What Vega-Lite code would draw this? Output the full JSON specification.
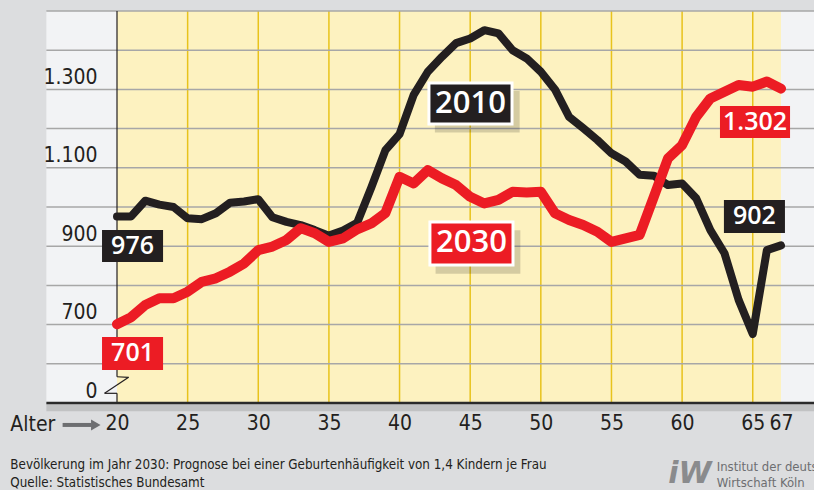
{
  "$schema": "https://vega.github.io/schema/vega-lite/v6.json",
  "width": 664,
  "height": 392,
  "autosize": "none",
  "padding": {"left": 117, "top": 11, "right": 33, "bottom": 87},
  "background": "#dcdddf",
  "config": {"view": {"stroke": null, "fill": "#fdf2c0"}, "font": "DejaVu Sans Condensed, Roboto"},
  "resolve": {"axis": {"x": "independent", "y": "independent"}},
  "layer": [
    {
      "data": {"values": [{}]},
      "mark": {"type": "rect", "fill": "#f2f3f5"},
      "encoding": {
        "x": {"datum": 15.0, "type": "quantitative", "scale": {"domain": [20, 67], "nice": false, "zero": false}, "axis": null},
        "x2": {"datum": 20},
        "y": {"datum": 500, "type": "quantitative", "scale": {"domain": [500, 1500], "nice": false, "zero": false}, "axis": null},
        "y2": {"datum": 1500}
      }
    },
    {
      "data": {"values": [{}]},
      "mark": {"type": "rect", "fill": "#f2f3f5"},
      "encoding": {
        "x": {"datum": 67, "type": "quantitative", "scale": {"domain": [20, 67], "nice": false, "zero": false}, "axis": null},
        "x2": {"datum": 70},
        "y": {"datum": 500, "type": "quantitative", "scale": {"domain": [500, 1500], "nice": false, "zero": false}, "axis": null},
        "y2": {"datum": 1500}
      }
    },
    {
      "data": {"values": [{"a": 25}, {"a": 30}, {"a": 35}, {"a": 40}, {"a": 45}, {"a": 50}, {"a": 55}, {"a": 60}, {"a": 65}]},
      "mark": {"type": "rule", "stroke": "#e8c31c", "strokeWidth": 1.5},
      "encoding": {
        "x": {"field": "a", "type": "quantitative", "scale": {"domain": [20, 67], "nice": false, "zero": false}, "axis": null},
        "y": {"datum": 500, "type": "quantitative", "scale": {"domain": [500, 1500], "nice": false, "zero": false}, "axis": null},
        "y2": {"datum": 1500}
      }
    },
    {
      "data": {"values": [{"g": 600}, {"g": 700}, {"g": 800}, {"g": 900}, {"g": 1000}, {"g": 1100}, {"g": 1200}, {"g": 1300}, {"g": 1400}, {"g": 1500}]},
      "mark": {"type": "rule", "stroke": "#a7a7a7", "strokeWidth": 1.5},
      "encoding": {
        "x": {"datum": 15.0, "type": "quantitative", "scale": {"domain": [20, 67], "nice": false, "zero": false}, "axis": null},
        "x2": {"datum": 70},
        "y": {"field": "g", "type": "quantitative", "scale": {"domain": [500, 1500], "nice": false, "zero": false}, "axis": null}
      }
    },
    {
      "data": {"values": [{}]},
      "mark": {"type": "rule", "stroke": "#231f20", "strokeWidth": 1.2},
      "encoding": {
        "x": {"datum": 20, "type": "quantitative", "scale": {"domain": [20, 67], "nice": false, "zero": false}, "axis": null},
        "y": {"datum": 567, "type": "quantitative", "scale": {"domain": [500, 1500], "nice": false, "zero": false}, "axis": null},
        "y2": {"datum": 1500}
      }
    },
    {
      "data": {"values": [{}]},
      "mark": {"type": "rule", "stroke": "#231f20", "strokeWidth": 1.2},
      "encoding": {
        "x": {"datum": 20, "type": "quantitative", "scale": {"domain": [20, 67], "nice": false, "zero": false}, "axis": null},
        "x2": {"datum": 20.82},
        "y": {"datum": 567, "type": "quantitative", "scale": {"domain": [500, 1500], "nice": false, "zero": false}, "axis": null},
        "y2": {"datum": 565.6}
      }
    },
    {
      "data": {"values": [{}]},
      "mark": {"type": "rule", "stroke": "#231f20", "strokeWidth": 1.2},
      "encoding": {
        "x": {"datum": 20.82, "type": "quantitative", "scale": {"domain": [20, 67], "nice": false, "zero": false}, "axis": null},
        "x2": {"datum": 19.12},
        "y": {"datum": 565.6, "type": "quantitative", "scale": {"domain": [500, 1500], "nice": false, "zero": false}, "axis": null},
        "y2": {"datum": 524.7}
      }
    },
    {
      "data": {"values": [{}]},
      "mark": {"type": "rule", "stroke": "#231f20", "strokeWidth": 1.2},
      "encoding": {
        "x": {"datum": 19.12, "type": "quantitative", "scale": {"domain": [20, 67], "nice": false, "zero": false}, "axis": null},
        "x2": {"datum": 20},
        "y": {"datum": 524.7, "type": "quantitative", "scale": {"domain": [500, 1500], "nice": false, "zero": false}, "axis": null},
        "y2": {"datum": 524.7}
      }
    },
    {
      "data": {"values": [{}]},
      "mark": {"type": "rule", "stroke": "#231f20", "strokeWidth": 1.2},
      "encoding": {
        "x": {"datum": 20, "type": "quantitative", "scale": {"domain": [20, 67], "nice": false, "zero": false}, "axis": null},
        "y": {"datum": 524.7, "type": "quantitative", "scale": {"domain": [500, 1500], "nice": false, "zero": false}, "axis": null},
        "y2": {"datum": 500}
      }
    },
    {
      "data": {"values": [{}]},
      "mark": {"type": "rule", "stroke": "#000000", "strokeOpacity": 0.12, "strokeWidth": 7},
      "encoding": {
        "x": {"datum": 15.0, "type": "quantitative", "scale": {"domain": [20, 67], "nice": false, "zero": false}, "axis": null},
        "x2": {"datum": 70},
        "y": {"datum": 488, "type": "quantitative", "scale": {"domain": [500, 1500], "nice": false, "zero": false}, "axis": null}
      }
    },
    {
      "data": {"values": [{}]},
      "mark": {"type": "rule", "stroke": "#2a2a2a", "strokeWidth": 2.5},
      "encoding": {
        "x": {"datum": 15.0, "type": "quantitative", "scale": {"domain": [20, 67], "nice": false, "zero": false}, "axis": null},
        "x2": {"datum": 70},
        "y": {"datum": 500, "type": "quantitative", "scale": {"domain": [500, 1500], "nice": false, "zero": false}, "axis": null}
      }
    },
    {
      "data": {"name": "pop"},
      "transform": [{"filter": "datum.jahr == '2010'"}],
      "mark": {"type": "line", "stroke": "#231f20", "strokeWidth": 8, "strokeCap": "round", "strokeJoin": "round"},
      "encoding": {
        "x": {"field": "alter", "type": "quantitative", "scale": {"domain": [20, 67], "nice": false, "zero": false},
          "axis": {"values": [20, 25, 30, 35, 40, 45, 50, 55, 60, 65, 67], "title": null, "grid": false, "domain": false, "ticks": false, "zindex": 2, "labelPadding": 9, "labelFontSize": 21, "labelColor": "#231f20", "labelOverlap": false, "labelBound": false, "labelFlush": false}},
        "y": {"field": "anzahl", "type": "quantitative", "scale": {"domain": [500, 1500], "nice": false, "zero": false},
          "axis": {"values": [500, 700, 900, 1100, 1300], "labelExpr": "datum.value == 500 ? '0' : replace(format(datum.value, ','), ',', '.')", "title": null, "grid": false, "domain": false, "ticks": false, "zindex": 2, "labelPadding": 20, "labelFontSize": 21, "labelColor": "#231f20", "labelBaseline": "alphabetic", "labelOffset": -6, "labelOverlap": false, "labelBound": false, "labelFlush": false}}
      }
    },
    {
      "data": {"name": "pop"},
      "transform": [{"filter": "datum.jahr == '2030'"}],
      "mark": {"type": "line", "stroke": "#ec1c24", "strokeWidth": 10, "strokeCap": "round", "strokeJoin": "round"},
      "encoding": {
        "x": {"field": "alter", "type": "quantitative", "scale": {"domain": [20, 67], "nice": false, "zero": false}, "axis": null},
        "y": {"field": "anzahl", "type": "quantitative", "scale": {"domain": [500, 1500], "nice": false, "zero": false}, "axis": null}
      }
    },
    {
      "data": {"values": [{}]},
      "mark": {"type": "rect", "fill": "#231f20"},
      "encoding": {
        "x": {"datum": 18.94, "type": "quantitative", "scale": {"domain": [20, 67], "nice": false, "zero": false}, "axis": null},
        "x2": {"datum": 23.26},
        "y": {"datum": 859.7, "type": "quantitative", "scale": {"domain": [500, 1500], "nice": false, "zero": false}, "axis": null},
        "y2": {"datum": 941.3}
      }
    },
    {
      "data": {"values": [{}]},
      "mark": {"type": "rect", "fill": "#ec1c24"},
      "encoding": {
        "x": {"datum": 18.94, "type": "quantitative", "scale": {"domain": [20, 67], "nice": false, "zero": false}, "axis": null},
        "x2": {"datum": 23.26},
        "y": {"datum": 584.2, "type": "quantitative", "scale": {"domain": [500, 1500], "nice": false, "zero": false}, "axis": null},
        "y2": {"datum": 668.4}
      }
    },
    {
      "data": {"values": [{}]},
      "mark": {"type": "rect", "fill": "#231f20"},
      "encoding": {
        "x": {"datum": 62.96, "type": "quantitative", "scale": {"domain": [20, 67], "nice": false, "zero": false}, "axis": null},
        "x2": {"datum": 67.28},
        "y": {"datum": 933.7, "type": "quantitative", "scale": {"domain": [500, 1500], "nice": false, "zero": false}, "axis": null},
        "y2": {"datum": 1017.9}
      }
    },
    {
      "data": {"values": [{}]},
      "mark": {"type": "rect", "fill": "#ec1c24"},
      "encoding": {
        "x": {"datum": 62.68, "type": "quantitative", "scale": {"domain": [20, 67], "nice": false, "zero": false}, "axis": null},
        "x2": {"datum": 67.64},
        "y": {"datum": 1176, "type": "quantitative", "scale": {"domain": [500, 1500], "nice": false, "zero": false}, "axis": null},
        "y2": {"datum": 1257.7}
      }
    },
    {
      "data": {"values": [{}]},
      "mark": {"type": "rect", "fill": "#000000", "opacity": 0.16},
      "encoding": {
        "x": {"datum": 42.5, "type": "quantitative", "scale": {"domain": [20, 67], "nice": false, "zero": false}, "axis": null},
        "x2": {"datum": 48.5},
        "y": {"datum": 1190, "type": "quantitative", "scale": {"domain": [500, 1500], "nice": false, "zero": false}, "axis": null},
        "y2": {"datum": 1296}
      }
    },
    {
      "data": {"values": [{}]},
      "mark": {"type": "rect", "fill": "#000000", "opacity": 0.16},
      "encoding": {
        "x": {"datum": 42.55, "type": "quantitative", "scale": {"domain": [20, 67], "nice": false, "zero": false}, "axis": null},
        "x2": {"datum": 48.55},
        "y": {"datum": 830, "type": "quantitative", "scale": {"domain": [500, 1500], "nice": false, "zero": false}, "axis": null},
        "y2": {"datum": 941}
      }
    },
    {
      "data": {"values": [{}]},
      "mark": {"type": "rect", "fill": "#231f20", "stroke": "#ffffff", "strokeWidth": 3},
      "encoding": {
        "x": {"datum": 42.08, "type": "quantitative", "scale": {"domain": [20, 67], "nice": false, "zero": false}, "axis": null},
        "x2": {"datum": 47.96},
        "y": {"datum": 1211.7, "type": "quantitative", "scale": {"domain": [500, 1500], "nice": false, "zero": false}, "axis": null},
        "y2": {"datum": 1316.3}
      }
    },
    {
      "data": {"values": [{}]},
      "mark": {"type": "rect", "fill": "#ec1c24", "stroke": "#ffffff", "strokeWidth": 3},
      "encoding": {
        "x": {"datum": 42.15, "type": "quantitative", "scale": {"domain": [20, 67], "nice": false, "zero": false}, "axis": null},
        "x2": {"datum": 48.03},
        "y": {"datum": 852, "type": "quantitative", "scale": {"domain": [500, 1500], "nice": false, "zero": false}, "axis": null},
        "y2": {"datum": 961.7}
      }
    },
    {
      "data": {"values": [{}]},
      "mark": {"type": "text", "font": "Open Sans", "fontWeight": 600, "fontSize": 25, "fill": "#ffffff", "align": "center", "baseline": "middle"},
      "encoding": {
        "x": {"datum": 21.1, "type": "quantitative", "scale": {"domain": [20, 67], "nice": false, "zero": false}, "axis": null},
        "y": {"datum": 900.5, "type": "quantitative", "scale": {"domain": [500, 1500], "nice": false, "zero": false}, "axis": null},
        "text": {"value": "976"}
      }
    },
    {
      "data": {"values": [{}]},
      "mark": {"type": "text", "font": "Open Sans", "fontWeight": 600, "fontSize": 25, "fill": "#ffffff", "align": "center", "baseline": "middle"},
      "encoding": {
        "x": {"datum": 21.1, "type": "quantitative", "scale": {"domain": [20, 67], "nice": false, "zero": false}, "axis": null},
        "y": {"datum": 626.3, "type": "quantitative", "scale": {"domain": [500, 1500], "nice": false, "zero": false}, "axis": null},
        "text": {"value": "701"}
      }
    },
    {
      "data": {"values": [{}]},
      "mark": {"type": "text", "font": "Open Sans", "fontWeight": 600, "fontSize": 25, "fill": "#ffffff", "align": "center", "baseline": "middle"},
      "encoding": {
        "x": {"datum": 65.12, "type": "quantitative", "scale": {"domain": [20, 67], "nice": false, "zero": false}, "axis": null},
        "y": {"datum": 975.8, "type": "quantitative", "scale": {"domain": [500, 1500], "nice": false, "zero": false}, "axis": null},
        "text": {"value": "902"}
      }
    },
    {
      "data": {"values": [{}]},
      "mark": {"type": "text", "font": "Open Sans", "fontWeight": 600, "fontSize": 25, "fill": "#ffffff", "align": "center", "baseline": "middle"},
      "encoding": {
        "x": {"datum": 65.16, "type": "quantitative", "scale": {"domain": [20, 67], "nice": false, "zero": false}, "axis": null},
        "y": {"datum": 1216.8, "type": "quantitative", "scale": {"domain": [500, 1500], "nice": false, "zero": false}, "axis": null},
        "text": {"value": "1.302"}
      }
    },
    {
      "data": {"values": [{}]},
      "mark": {"type": "text", "font": "Open Sans", "fontWeight": 600, "fontSize": 31, "fill": "#ffffff", "align": "center", "baseline": "middle"},
      "encoding": {
        "x": {"datum": 45.02, "type": "quantitative", "scale": {"domain": [20, 67], "nice": false, "zero": false}, "axis": null},
        "y": {"datum": 1264, "type": "quantitative", "scale": {"domain": [500, 1500], "nice": false, "zero": false}, "axis": null},
        "text": {"value": "2010"}
      }
    },
    {
      "data": {"values": [{}]},
      "mark": {"type": "text", "font": "Open Sans", "fontWeight": 600, "fontSize": 31, "fill": "#ffffff", "align": "center", "baseline": "middle"},
      "encoding": {
        "x": {"datum": 45.09, "type": "quantitative", "scale": {"domain": [20, 67], "nice": false, "zero": false}, "axis": null},
        "y": {"datum": 906.9, "type": "quantitative", "scale": {"domain": [500, 1500], "nice": false, "zero": false}, "axis": null},
        "text": {"value": "2030"}
      }
    },
    {
      "data": {"values": [{}]},
      "mark": {"type": "text", "fontSize": 21, "fill": "#231f20", "align": "left", "baseline": "middle"},
      "encoding": {
        "x": {"datum": 12.45, "type": "quantitative", "scale": {"domain": [20, 67], "nice": false, "zero": false}, "axis": null},
        "y": {"datum": 444, "type": "quantitative", "scale": {"domain": [500, 1500], "nice": false, "zero": false}, "axis": null},
        "text": {"value": "Alter"}
      }
    },
    {
      "data": {"values": [{}]},
      "mark": {"type": "rule", "stroke": "#6d6e71", "strokeWidth": 4},
      "encoding": {
        "x": {"datum": 16.15, "type": "quantitative", "scale": {"domain": [20, 67], "nice": false, "zero": false}, "axis": null},
        "x2": {"datum": 18.2},
        "y": {"datum": 444, "type": "quantitative", "scale": {"domain": [500, 1500], "nice": false, "zero": false}, "axis": null}
      }
    },
    {
      "data": {"values": [{}]},
      "mark": {"type": "point", "shape": "triangle-right", "filled": true, "fill": "#6d6e71", "size": 120, "opacity": 1},
      "encoding": {
        "x": {"datum": 18.5, "type": "quantitative", "scale": {"domain": [20, 67], "nice": false, "zero": false}, "axis": null},
        "y": {"datum": 444, "type": "quantitative", "scale": {"domain": [500, 1500], "nice": false, "zero": false}, "axis": null}
      }
    },
    {
      "data": {"values": [{}]},
      "mark": {"type": "text", "fontSize": 13.3, "fill": "#231f20", "align": "left", "baseline": "middle"},
      "encoding": {
        "x": {"datum": 12.45, "type": "quantitative", "scale": {"domain": [20, 67], "nice": false, "zero": false}, "axis": null},
        "y": {"datum": 341.8, "type": "quantitative", "scale": {"domain": [500, 1500], "nice": false, "zero": false}, "axis": null},
        "text": {"value": "Bevölkerung im Jahr 2030: Prognose bei einer Geburtenhäufigkeit von 1,4 Kindern je Frau"}
      }
    },
    {
      "data": {"values": [{}]},
      "mark": {"type": "text", "fontSize": 13.3, "fill": "#231f20", "align": "left", "baseline": "middle"},
      "encoding": {
        "x": {"datum": 12.45, "type": "quantitative", "scale": {"domain": [20, 67], "nice": false, "zero": false}, "axis": null},
        "y": {"datum": 296, "type": "quantitative", "scale": {"domain": [500, 1500], "nice": false, "zero": false}, "axis": null},
        "text": {"value": "Quelle: Statistisches Bundesamt"}
      }
    },
    {
      "data": {"values": [{}]},
      "mark": {"type": "text", "fontSize": 30, "fontWeight": "bold", "fontStyle": "italic", "fill": "#8a8b8d", "align": "center", "baseline": "middle", "font": "DejaVu Sans"},
      "encoding": {
        "x": {"datum": 60.55, "type": "quantitative", "scale": {"domain": [20, 67], "nice": false, "zero": false}, "axis": null},
        "y": {"datum": 318, "type": "quantitative", "scale": {"domain": [500, 1500], "nice": false, "zero": false}, "axis": null},
        "text": {"value": "iW"}
      }
    },
    {
      "data": {"values": [{}]},
      "mark": {"type": "text", "fontSize": 13, "fill": "#6d6e71", "align": "left", "baseline": "middle"},
      "encoding": {
        "x": {"datum": 62.45, "type": "quantitative", "scale": {"domain": [20, 67], "nice": false, "zero": false}, "axis": null},
        "y": {"datum": 336.7, "type": "quantitative", "scale": {"domain": [500, 1500], "nice": false, "zero": false}, "axis": null},
        "text": {"value": "Institut der deutschen"}
      }
    },
    {
      "data": {"values": [{}]},
      "mark": {"type": "text", "fontSize": 13, "fill": "#6d6e71", "align": "left", "baseline": "middle"},
      "encoding": {
        "x": {"datum": 62.45, "type": "quantitative", "scale": {"domain": [20, 67], "nice": false, "zero": false}, "axis": null},
        "y": {"datum": 296, "type": "quantitative", "scale": {"domain": [500, 1500], "nice": false, "zero": false}, "axis": null},
        "text": {"value": "Wirtschaft Köln"}
      }
    }
  ],
  "datasets": {
    "pop": [
      {"jahr": "2010", "alter": 20, "anzahl": 976},
      {"jahr": "2010", "alter": 21, "anzahl": 976},
      {"jahr": "2010", "alter": 22, "anzahl": 1016},
      {"jahr": "2010", "alter": 23, "anzahl": 1006},
      {"jahr": "2010", "alter": 24, "anzahl": 1000},
      {"jahr": "2010", "alter": 25, "anzahl": 971},
      {"jahr": "2010", "alter": 26, "anzahl": 969},
      {"jahr": "2010", "alter": 27, "anzahl": 984},
      {"jahr": "2010", "alter": 28, "anzahl": 1011},
      {"jahr": "2010", "alter": 29, "anzahl": 1014},
      {"jahr": "2010", "alter": 30, "anzahl": 1020},
      {"jahr": "2010", "alter": 31, "anzahl": 974},
      {"jahr": "2010", "alter": 32, "anzahl": 962},
      {"jahr": "2010", "alter": 33, "anzahl": 954},
      {"jahr": "2010", "alter": 34, "anzahl": 941},
      {"jahr": "2010", "alter": 35, "anzahl": 927},
      {"jahr": "2010", "alter": 36, "anzahl": 940},
      {"jahr": "2010", "alter": 37, "anzahl": 960},
      {"jahr": "2010", "alter": 38, "anzahl": 1050},
      {"jahr": "2010", "alter": 39, "anzahl": 1145},
      {"jahr": "2010", "alter": 40, "anzahl": 1186},
      {"jahr": "2010", "alter": 41, "anzahl": 1286},
      {"jahr": "2010", "alter": 42, "anzahl": 1345},
      {"jahr": "2010", "alter": 43, "anzahl": 1383},
      {"jahr": "2010", "alter": 44, "anzahl": 1418},
      {"jahr": "2010", "alter": 45, "anzahl": 1430},
      {"jahr": "2010", "alter": 46, "anzahl": 1451},
      {"jahr": "2010", "alter": 47, "anzahl": 1443},
      {"jahr": "2010", "alter": 48, "anzahl": 1400},
      {"jahr": "2010", "alter": 49, "anzahl": 1379},
      {"jahr": "2010", "alter": 50, "anzahl": 1345},
      {"jahr": "2010", "alter": 51, "anzahl": 1300},
      {"jahr": "2010", "alter": 52, "anzahl": 1230},
      {"jahr": "2010", "alter": 53, "anzahl": 1201},
      {"jahr": "2010", "alter": 54, "anzahl": 1171},
      {"jahr": "2010", "alter": 55, "anzahl": 1137},
      {"jahr": "2010", "alter": 56, "anzahl": 1116},
      {"jahr": "2010", "alter": 57, "anzahl": 1082},
      {"jahr": "2010", "alter": 58, "anzahl": 1080},
      {"jahr": "2010", "alter": 59, "anzahl": 1056},
      {"jahr": "2010", "alter": 60, "anzahl": 1060},
      {"jahr": "2010", "alter": 61, "anzahl": 1022},
      {"jahr": "2010", "alter": 62, "anzahl": 941},
      {"jahr": "2010", "alter": 63, "anzahl": 882},
      {"jahr": "2010", "alter": 64, "anzahl": 763},
      {"jahr": "2010", "alter": 65, "anzahl": 676},
      {"jahr": "2010", "alter": 66, "anzahl": 890},
      {"jahr": "2010", "alter": 67, "anzahl": 902},
      {"jahr": "2030", "alter": 20, "anzahl": 701},
      {"jahr": "2030", "alter": 21, "anzahl": 719},
      {"jahr": "2030", "alter": 22, "anzahl": 750},
      {"jahr": "2030", "alter": 23, "anzahl": 767},
      {"jahr": "2030", "alter": 24, "anzahl": 767},
      {"jahr": "2030", "alter": 25, "anzahl": 784},
      {"jahr": "2030", "alter": 26, "anzahl": 809},
      {"jahr": "2030", "alter": 27, "anzahl": 818},
      {"jahr": "2030", "alter": 28, "anzahl": 835},
      {"jahr": "2030", "alter": 29, "anzahl": 856},
      {"jahr": "2030", "alter": 30, "anzahl": 890},
      {"jahr": "2030", "alter": 31, "anzahl": 899},
      {"jahr": "2030", "alter": 32, "anzahl": 916},
      {"jahr": "2030", "alter": 33, "anzahl": 946},
      {"jahr": "2030", "alter": 34, "anzahl": 933},
      {"jahr": "2030", "alter": 35, "anzahl": 911},
      {"jahr": "2030", "alter": 36, "anzahl": 920},
      {"jahr": "2030", "alter": 37, "anzahl": 943},
      {"jahr": "2030", "alter": 38, "anzahl": 958},
      {"jahr": "2030", "alter": 39, "anzahl": 985},
      {"jahr": "2030", "alter": 40, "anzahl": 1077},
      {"jahr": "2030", "alter": 41, "anzahl": 1060},
      {"jahr": "2030", "alter": 42, "anzahl": 1094},
      {"jahr": "2030", "alter": 43, "anzahl": 1073},
      {"jahr": "2030", "alter": 44, "anzahl": 1056},
      {"jahr": "2030", "alter": 45, "anzahl": 1026},
      {"jahr": "2030", "alter": 46, "anzahl": 1009},
      {"jahr": "2030", "alter": 47, "anzahl": 1018},
      {"jahr": "2030", "alter": 48, "anzahl": 1039},
      {"jahr": "2030", "alter": 49, "anzahl": 1037},
      {"jahr": "2030", "alter": 50, "anzahl": 1039},
      {"jahr": "2030", "alter": 51, "anzahl": 984},
      {"jahr": "2030", "alter": 52, "anzahl": 967},
      {"jahr": "2030", "alter": 53, "anzahl": 954},
      {"jahr": "2030", "alter": 54, "anzahl": 937},
      {"jahr": "2030", "alter": 55, "anzahl": 911},
      {"jahr": "2030", "alter": 56, "anzahl": 920},
      {"jahr": "2030", "alter": 57, "anzahl": 929},
      {"jahr": "2030", "alter": 58, "anzahl": 1026},
      {"jahr": "2030", "alter": 59, "anzahl": 1124},
      {"jahr": "2030", "alter": 60, "anzahl": 1158},
      {"jahr": "2030", "alter": 61, "anzahl": 1230},
      {"jahr": "2030", "alter": 62, "anzahl": 1277},
      {"jahr": "2030", "alter": 63, "anzahl": 1294},
      {"jahr": "2030", "alter": 64, "anzahl": 1311},
      {"jahr": "2030", "alter": 65, "anzahl": 1307},
      {"jahr": "2030", "alter": 66, "anzahl": 1320},
      {"jahr": "2030", "alter": 67, "anzahl": 1302}
    ]
  }
}
